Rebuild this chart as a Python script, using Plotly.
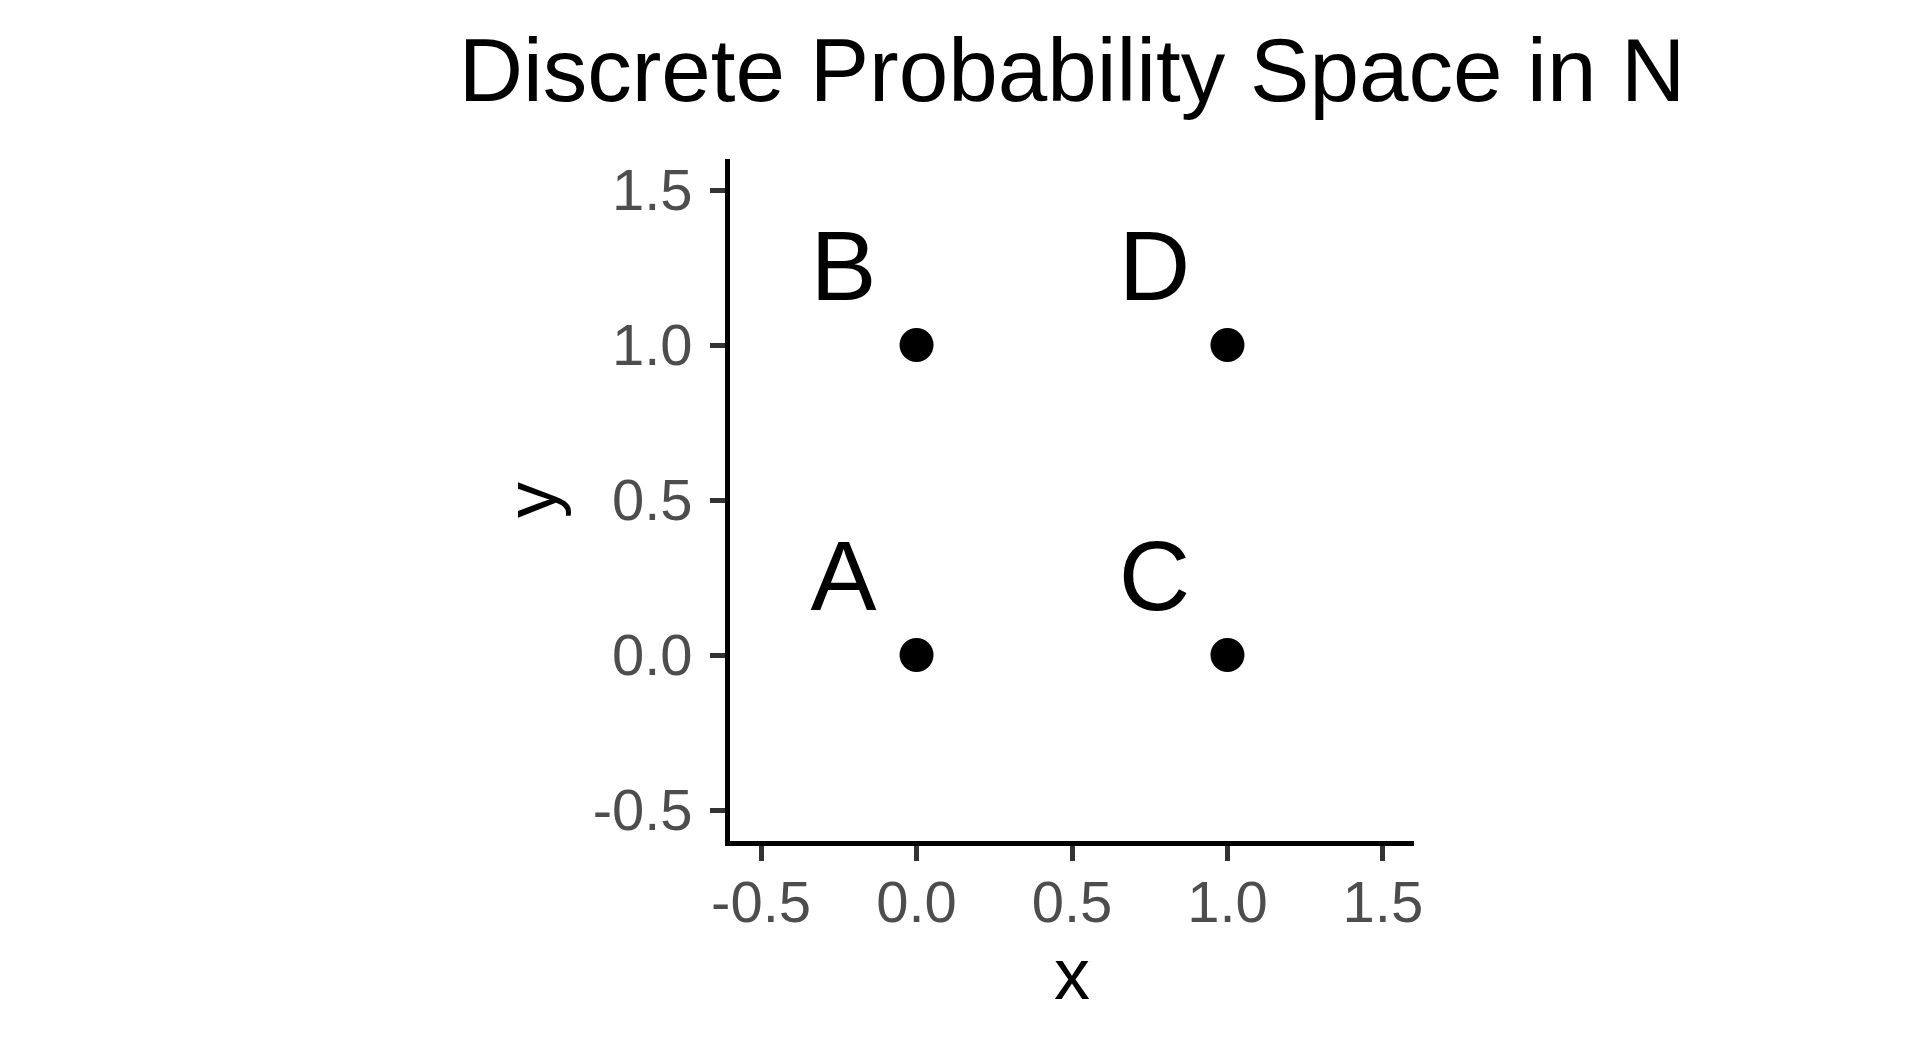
import plotly.graph_objects as go

# points of the discrete space
labels = ["A", "B", "C", "D"]
xs = [0, 0, 1, 1]
ys = [0, 1, 0, 1]

tick_vals = [-0.5, 0.0, 0.5, 1.0, 1.5]
tick_text = ["-0.5", "0.0", "0.5", "1.0", "1.5"]

FONT = "Liberation Sans, Arial, Helvetica, sans-serif"
dx, dy = -0.235, 0.225  # label nudge

fig = go.Figure()
fig.add_trace(go.Scatter(
    x=xs, y=ys, mode="markers",
    marker=dict(color="black", size=34, line=dict(width=0)),
    showlegend=False, hoverinfo="x+y"
))
fig.add_trace(go.Scatter(
    x=[v + dx for v in xs], y=[v + dy for v in ys], mode="text",
    text=labels, textposition="middle center",
    textfont=dict(family=FONT, size=99, color="black"),
    showlegend=False, hoverinfo="skip"
))

axis_common = dict(
    range=[-0.6, 1.6], tickvals=tick_vals, ticktext=tick_text,
    showgrid=False, zeroline=False,
    showline=True, linecolor="black", linewidth=4.5,
    ticks="outside", ticklen=15, tickwidth=4.5, tickcolor="#333333",
    tickfont=dict(family=FONT, size=58, color="#4D4D4D"),
    title_font=dict(family=FONT, size=72, color="black"),
)

fig.update_xaxes(**axis_common, title_text="x", title_standoff=10, ticklabelstandoff=-8)
fig.update_yaxes(**axis_common, title_text="y", title_standoff=14, ticklabelstandoff=6)

fig.update_layout(
    width=1920, height=1056,
    margin=dict(l=722, r=514, t=151, b=223),
    plot_bgcolor="white", paper_bgcolor="white",
    title=dict(text="Discrete Probability Space in N", x=0.5, xref="paper", xanchor="center",
               y=0.941, yref="container", yanchor="middle",
               font=dict(family=FONT, size=89, color="black")),
)

fig.write_html("out.html")
